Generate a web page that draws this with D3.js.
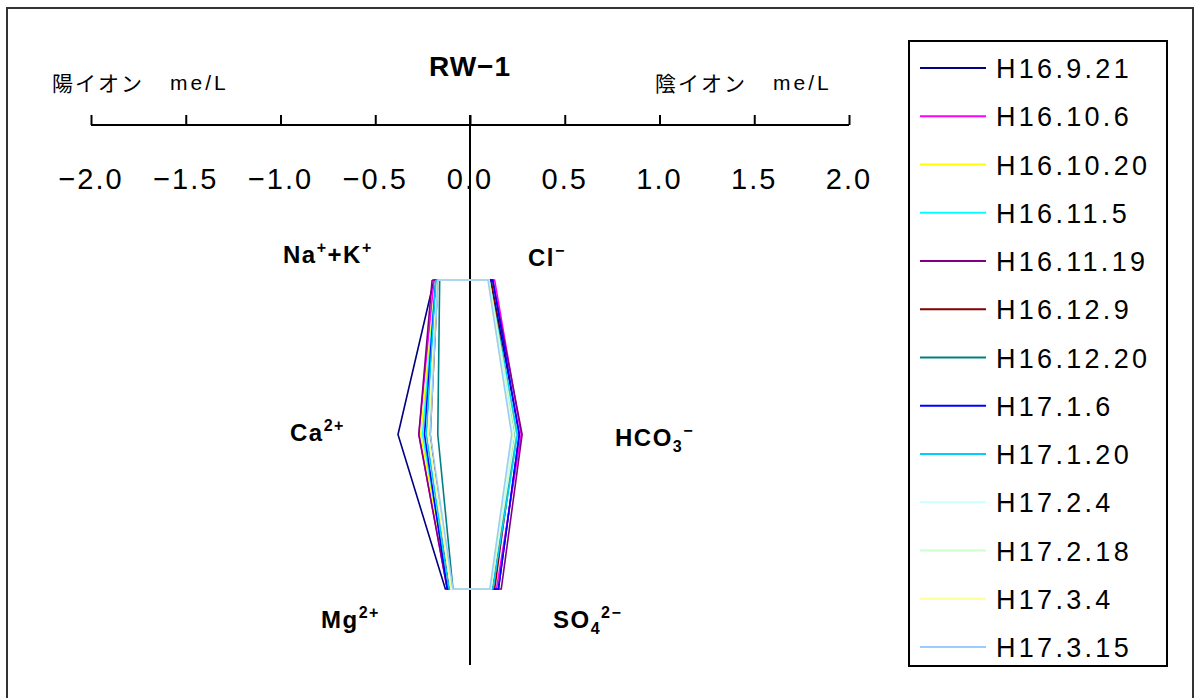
<!DOCTYPE html>
<html><head><meta charset="utf-8">
<script src="https://cdn.jsdelivr.net/npm/d3@7"></script>
<style>body{margin:0;background:#fff}svg{display:block}</style>
</head><body><svg id="c" width="1195" height="698"></svg>
<script>
const title = "RW−1";
const seriesNames = ["H16.9.21","H16.10.6","H16.10.20","H16.11.5","H16.11.19","H16.12.9","H16.12.20","H17.1.6","H17.1.20","H17.2.4","H17.2.18","H17.3.4","H17.3.15"];
const seriesColors = ["#000080","#FF00FF","#FFFF00","#00FFFF","#800080","#800000","#008080","#0000FF","#00CCFF","#CCFFFF","#CCFFCC","#FFFF99","#99CCFF"];
// cations (me/L, drawn to the left)
const naK = [0.19,0.19,0.18,0.18,0.20,0.17,0.16,0.18,0.18,0.17,0.17,0.17,0.17];
const ca  = [0.38,0.27,0.26,0.25,0.27,0.21,0.17,0.24,0.23,0.22,0.22,0.22,0.21];
const mg  = [0.13,0.12,0.11,0.11,0.12,0.11,0.09,0.12,0.11,0.10,0.10,0.10,0.09];
// anions (me/L, drawn to the right)
const cl   = [0.11,0.13,0.10,0.10,0.12,0.11,0.10,0.12,0.10,0.10,0.10,0.095,0.095];
const hco3 = [0.26,0.27,0.23,0.25,0.275,0.24,0.24,0.26,0.25,0.23,0.24,0.22,0.22];
const so4  = [0.15,0.14,0.12,0.12,0.165,0.13,0.12,0.15,0.12,0.11,0.11,0.105,0.105];
const rows = ["top","mid","bottom"];
const tickValues = [-2.0,-1.5,-1.0,-0.5,0.0,0.5,1.0,1.5,2.0];

const svg = d3.select("#c");
const font = "'Liberation Sans', Arial, sans-serif";
const cjk = "'Noto Sans CJK JP', sans-serif";

svg.append("rect").attr("x",7).attr("y",8).attr("width",1186).attr("height",700)
  .attr("fill","#fff").attr("stroke","#333").attr("stroke-width",2);

const x = d3.scaleLinear().domain([-2,2]).range([91,849]);
const y = d3.scalePoint().domain(rows).range([280,589]);

// axis
const axis = d3.axisTop(x).tickValues(tickValues).tickSize(10).tickFormat("");
const ag = svg.append("g").attr("transform","translate(0,125)").call(axis);
ag.select(".domain").attr("stroke","#000").attr("stroke-width",2).attr("d","M91,0H849");
ag.selectAll(".tick line").attr("stroke","#000").attr("stroke-width",2);
svg.append("g").selectAll("text").data(tickValues).join("text")
  .attr("x",d=>x(d)).attr("y",189).attr("text-anchor","middle")
  .attr("font-family",font).attr("font-size",29).attr("letter-spacing",2)
  .text(d=>(d<0?"−":"")+Math.abs(d).toFixed(1));

// vertical zero line
svg.append("line").attr("x1",x(0)).attr("x2",x(0)).attr("y1",115).attr("y2",665)
  .attr("stroke","#000").attr("stroke-width",2);

// title and axis titles
svg.append("text").attr("x",470).attr("y",76).attr("text-anchor","middle")
  .attr("font-family",font).attr("font-weight","bold").attr("font-size",28).attr("letter-spacing",1).text(title);
function axTitle(x0, ch){
  svg.append("text").attr("x",x0).attr("y",91).attr("font-family",cjk)
    .attr("font-size",21).attr("letter-spacing",2).text(ch);
  svg.append("text").attr("x",x0+118).attr("y",90).attr("font-family",font)
    .attr("font-size",21).attr("letter-spacing",3).text("me/L");
}
axTitle(52,"陽イオン");
axTitle(655,"陰イオン");

// ion labels
function ionLabel(xp, yp, parts){
  const t = svg.append("text").attr("x",xp).attr("y",yp).attr("font-family",font)
    .attr("font-weight","bold").attr("font-size",24).attr("letter-spacing",1.5);
  parts.forEach(p=>{
    const s = t.append("tspan").text(p[0]);
    if(p[1]==="sup") s.attr("font-size",16).attr("dy",-10);
    if(p[1]==="sub") s.attr("font-size",16).attr("dy",6);
    if(p[1]==="rs") s.attr("dy",p[2]);
    if(p[3]) s.attr("font-size",p[3]);
  });
}
ionLabel(283,263,[["Na"],["+","sup"],["+K","rs",10],["+","sup"]]);
ionLabel(528,266,[["Cl"],["−","sup"]]);
ionLabel(290,441,[["Ca"],["2+","sup"]]);
ionLabel(615,446,[["HCO"],["3","sub"],["−","rs",-16,16]]);
ionLabel(321,628,[["Mg"],["2+","sup"]]);
ionLabel(553,628,[["SO"],["4","sub"],["2−","rs",-16,16]]);

// polygons
const line = d3.line().x(d=>x(d[0])).y(d=>y(d[1]));
seriesNames.forEach((n,i)=>{
  const pts = [[-naK[i],"top"],[cl[i],"top"],[hco3[i],"mid"],[so4[i],"bottom"],[-mg[i],"bottom"],[-ca[i],"mid"],[-naK[i],"top"]];
  svg.append("path").attr("d",line(pts)).attr("fill","none")
    .attr("stroke",seriesColors[i]).attr("stroke-width",1.6);
});

// legend
svg.append("rect").attr("x",909).attr("y",41).attr("width",258).attr("height",625)
  .attr("fill","#fff").attr("stroke","#000").attr("stroke-width",2);
const ly = d3.scalePoint().domain(seriesNames).range([68,647]);
const lg = svg.append("g");
seriesNames.forEach((n,i)=>{
  lg.append("line").attr("x1",920).attr("x2",986).attr("y1",ly(n)).attr("y2",ly(n))
    .attr("stroke",seriesColors[i]).attr("stroke-width",2);
  lg.append("text").attr("x",996).attr("y",ly(n)+10).attr("font-family",font)
    .attr("font-size",27).attr("letter-spacing",3.3).text(n);
});
</script></body></html>
